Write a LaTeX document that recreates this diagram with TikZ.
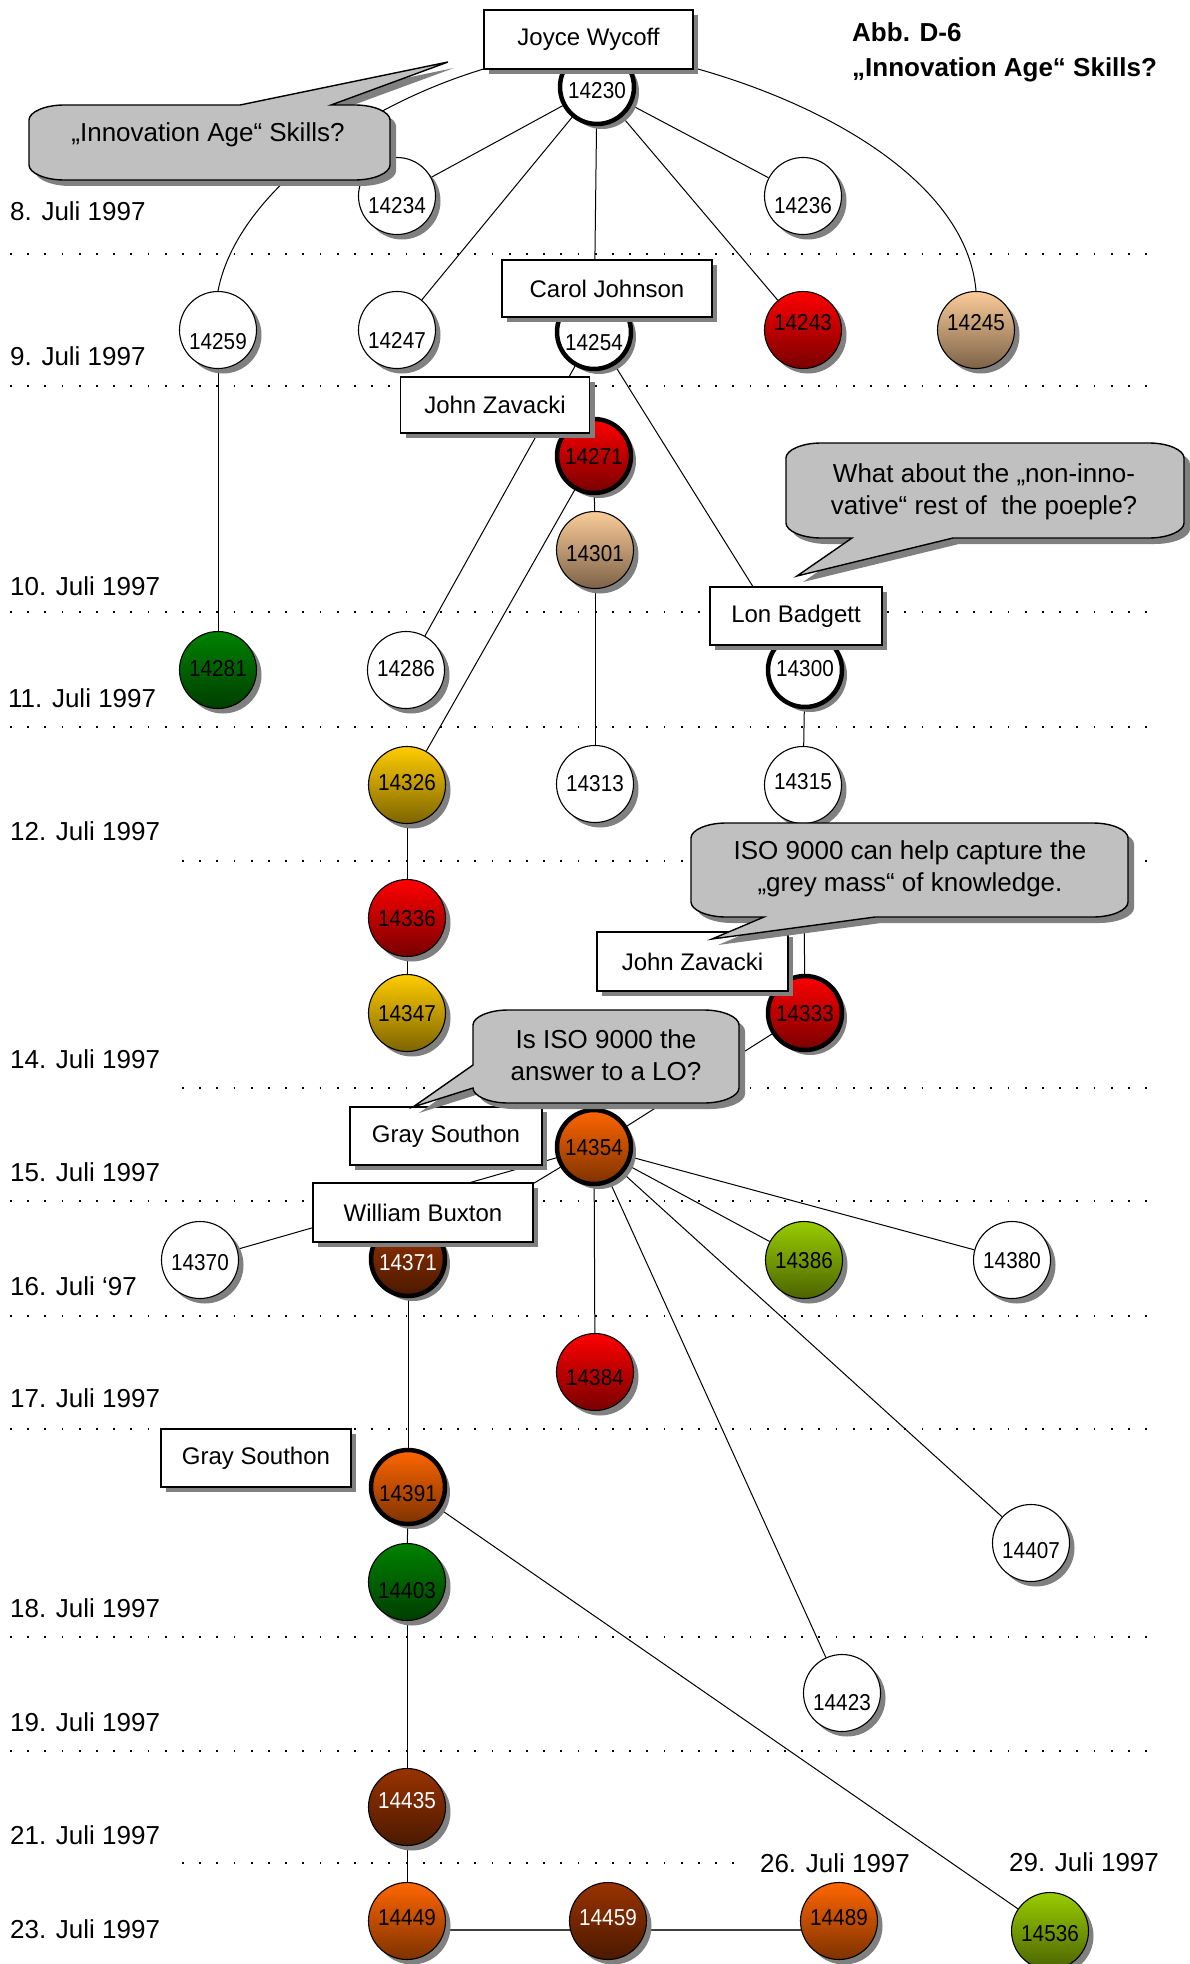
\documentclass[tikz,border=0pt]{standalone}
\usepackage{graphicx}
\usepackage{fontspec}
\setmainfont{Liberation Sans}
\usetikzlibrary{shadows,backgrounds}
\definecolor{redtop}{RGB}{255,0,0}
\definecolor{redbot}{RGB}{120,0,0}
\definecolor{tantop}{RGB}{250,204,153}
\definecolor{tanbot}{RGB}{125,98,72}
\definecolor{greentop}{RGB}{0,130,0}
\definecolor{greenbot}{RGB}{0,62,0}
\definecolor{goldtop}{RGB}{255,204,0}
\definecolor{goldbot}{RGB}{125,100,0}
\definecolor{orangetop}{RGB}{255,102,0}
\definecolor{orangebot}{RGB}{125,50,0}
\definecolor{browntop}{RGB}{153,51,0}
\definecolor{brownbot}{RGB}{75,25,0}
\definecolor{limetop}{RGB}{153,204,0}
\definecolor{limebot}{RGB}{75,100,0}
\definecolor{shadowgray}{RGB}{128,128,128}
\definecolor{bubblegray}{RGB}{192,192,192}
\newcommand\nn[2]{\raisebox{-#1pt}{\raisebox{-0.8pt}{\scalebox{0.9}[1]{#2}}}}
\tikzset{
  myshadow/.style={drop shadow={shadow xshift=5pt,shadow yshift=-5pt,fill=shadowgray,opacity=1}},
  cnode/.style={circle,draw=black,line width=1.1pt,minimum size=77pt,inner sep=0pt,
    font=\fontsize{23}{23}\selectfont,text height=0pt,text depth=0pt,myshadow},
  heavyring/.style={line width=4.5pt,minimum size=74pt},
  wnode/.style={cnode,fill=white},
  rednode/.style={cnode,top color=redtop,bottom color=redbot},
  tannode/.style={cnode,top color=tantop,bottom color=tanbot},
  greennode/.style={cnode,top color=greentop,bottom color=greenbot},
  goldnode/.style={cnode,top color=goldtop,bottom color=goldbot},
  orangenode/.style={cnode,top color=orangetop,bottom color=orangebot},
  brownnode/.style={cnode,top color=browntop,bottom color=brownbot,text=white},
  limenode/.style={cnode,top color=limetop,bottom color=limebot},
  namebox/.style={rectangle,draw=black,line width=1.2pt,fill=white,inner sep=0pt,
    font=\fontsize{24}{24}\selectfont,myshadow},
  datelbl/.style={font=\fontsize{26}{26}\selectfont,anchor=base west,inner sep=0pt},
  titlelbl/.style={font=\bfseries\fontsize{26}{26}\selectfont,anchor=base west,inner sep=0pt},
  conn/.style={line width=1pt,draw=black},
  dotline/.style={line width=1.7pt,draw=black,dash pattern=on 1.7pt off 15.5pt},
  bubble/.style={draw=black,line width=1.4pt,fill=bubblegray,
    drop shadow={shadow xshift=6pt,shadow yshift=-6pt,fill=shadowgray,opacity=1}},
  bubtext/.style={font=\fontsize{26}{32}\selectfont,align=center,inner sep=0pt},
}
\begin{document}
\begin{tikzpicture}[x=1pt,y=-1pt]
\useasboundingbox (0,0) rectangle (1189,1964);

% ---------- circles ----------
\node[wnode,heavyring] (n14230) at (597,87) {\nn{10.5}{14230}};
\node[wnode] (n14234) at (397,196) {\nn{16.5}{14234}};
\node[wnode] (n14236) at (803,196) {\nn{16.5}{14236}};
\node[wnode] (n14259) at (218,330) {\nn{18.5}{14259}};
\node[wnode] (n14247) at (397,330) {\nn{18}{14247}};
\node[wnode,heavyring] (n14254) at (594,332) {\nn{17.5}{14254}};
\node[rednode] (n14243) at (803,330) {\nn{-0.5}{14243}};
\node[tannode] (n14245) at (976,330) {\nn{-0.5}{14245}};
\node[rednode,heavyring] (n14271) at (594,456) {\nn{7.5}{14271}};
\node[tannode] (n14301) at (595,550) {\nn{10.5}{14301}};
\node[greennode] (n14281) at (218,670) {\nn{5.5}{14281}};
\node[wnode] (n14286) at (406,670) {\nn{5.5}{14286}};
\node[wnode,heavyring] (n14300) at (805,670) {\nn{5.5}{14300}};
\node[goldnode] (n14326) at (407,785) {\nn{4.5}{14326}};
\node[wnode] (n14313) at (595,784) {\nn{6.5}{14313}};
\node[wnode] (n14315) at (803,785) {\nn{3.5}{14315}};
\node[rednode] (n14336) at (407,918) {\nn{7.5}{14336}};
\node[goldnode] (n14347) at (407,1013) {\nn{7.5}{14347}};
\node[rednode,heavyring] (n14333) at (805,1013) {\nn{7.5}{14333}};
\node[orangenode,heavyring] (n14354) at (594,1147) {\nn{7.5}{14354}};
\node[wnode] (n14370) at (200,1260) {\nn{9.5}{14370}};
\node[brownnode,heavyring] (n14371) at (408,1259) {\nn{10.5}{14371}};
\node[limenode] (n14386) at (804,1260) {\nn{7.5}{14386}};
\node[wnode] (n14380) at (1012,1260) {\nn{7.5}{14380}};
\node[rednode] (n14384) at (595,1372) {\nn{12.5}{14384}};
\node[orangenode,heavyring] (n14391) at (408,1487) {\nn{13.5}{14391}};
\node[greennode] (n14403) at (407,1582) {\nn{15.5}{14403}};
\node[wnode] (n14407) at (1031,1543) {\nn{14.5}{14407}};
\node[wnode] (n14423) at (842,1693) {\nn{16.5}{14423}};
\node[brownnode] (n14435) at (407,1807) {\nn{0.5}{14435}};
\node[orangenode] (n14449) at (407,1921) {\nn{3.5}{14449}};
\node[brownnode] (n14459) at (608,1921) {\nn{3.5}{14459}};
\node[orangenode] (n14489) at (839,1921) {\nn{3.5}{14489}};
\node[limenode] (n14536) at (1050,1931) {\nn{9.5}{14536}};

% ---------- name boxes ----------
\node[namebox,minimum width=209pt,minimum height=59pt] (bJoyce) at (588.5,39.5) {Joyce Wycoff};
\node[namebox,minimum width=210pt,minimum height=57pt] (bCarol) at (607,288.5) {Carol Johnson};
\node[namebox,minimum width=189pt,minimum height=56pt] (bZavA) at (495,405) {John Zavacki};
\node[namebox,minimum width=172pt,minimum height=58pt] (bLon) at (796,616) {Lon Badgett};
\node[namebox,minimum width=191pt,minimum height=59pt] (bZavB) at (692.5,961.5) {John Zavacki};
\node[namebox,minimum width=192pt,minimum height=58pt] (bGrayA) at (446,1136) {Gray Southon};
\node[namebox,minimum width=220pt,minimum height=59pt] (bBux) at (423,1212.5) {William Buxton};
\node[namebox,minimum width=190pt,minimum height=58pt] (bGrayB) at (256,1458) {Gray Southon};

% ---------- callouts ----------
\path[bubble] (29,120) .. controls (29,112) and (45,105) .. (64,105) -- (240,105) -- (448,62) -- (331,105)
  -- (355,105) .. controls (374,105) and (390,112) .. (390,120) -- (390,165)
  .. controls (390,173) and (374,180) .. (355,180) -- (64,180)
  .. controls (45,180) and (29,173) .. (29,165) -- cycle;
\node[bubtext] (cInno) at (208,135) {„Innovation Age“ Skills?};

\path[bubble] (786,458) .. controls (786,450) and (802,443) .. (821,443) -- (1149,443)
  .. controls (1168,443) and (1184,450) .. (1184,458) -- (1184,523)
  .. controls (1184,531) and (1168,538) .. (1149,538) -- (953,538) -- (797,576) -- (852,538)
  -- (821,538) .. controls (802,538) and (786,531) .. (786,523) -- cycle;
\node[bubtext] (cWhat) at (984,492) {What about the „non-inno-\\vative“ rest of\ \ the poeple?};

\path[bubble] (691,838) .. controls (691,830) and (707,823) .. (726,823) -- (1093,823)
  .. controls (1112,823) and (1128,830) .. (1128,838) -- (1128,902)
  .. controls (1128,910) and (1112,917) .. (1093,917) -- (875,917) -- (712,939) -- (764,917)
  -- (726,917) .. controls (707,917) and (691,910) .. (691,902) -- cycle;
\node[bubtext] (cISO) at (910,869) {ISO 9000 can help capture the\\„grey mass“ of knowledge.};

\path[bubble] (473,1025) .. controls (473,1017) and (489,1010) .. (508,1010) -- (704,1010)
  .. controls (723,1010) and (739,1017) .. (739,1025) -- (739,1088)
  .. controls (739,1096) and (723,1103) .. (704,1103) -- (508,1103)
  .. controls (489,1103) and (473,1096) .. (473,1088) -- (413,1107) -- (473,1065) -- cycle;
\node[bubtext] (cLO) at (606,1055) {Is ISO 9000 the\\answer to a LO?};

% ---------- title ----------
\node[titlelbl] (t1) at (852,42) {Abb. D-6};
\node[titlelbl] (t2) at (852,77) {„Innovation Age“ Skills?};

% ---------- dates ----------
\node[datelbl] (d8) at (10,221) {8. Juli 1997};
\node[datelbl] (d9) at (10,365) {9. Juli 1997};
\node[datelbl] (d10) at (10,595) {10. Juli 1997};
\node[datelbl] (d11) at (8,707) {11. Juli 1997};
\node[datelbl] (d12) at (10,840) {12. Juli 1997};
\node[datelbl] (d14) at (10,1068) {14. Juli 1997};
\node[datelbl] (d15) at (10,1181) {15. Juli 1997};
\node[datelbl] (d16) at (10,1295) {16. Juli ‘97};
\node[datelbl] (d17) at (10,1407) {17. Juli 1997};
\node[datelbl] (d18) at (10,1617) {18. Juli 1997};
\node[datelbl] (d19) at (10,1731) {19. Juli 1997};
\node[datelbl] (d21) at (10,1844) {21. Juli 1997};
\node[datelbl] (d23) at (10,1938) {23. Juli 1997};
\node[datelbl,anchor=base] (d26) at (835,1872) {26. Juli 1997};
\node[datelbl,anchor=base] (d29) at (1084,1871) {29. Juli 1997};

% ---------- background: dotted rules and connectors ----------
\begin{pgfonlayer}{background}
\fill[white] (0,0) rectangle (1189,1964);
\foreach \yy in {254,386,612,727,1201,1316,1429,1637,1751}
  \draw[dotline] (10,\yy) -- (1160,\yy);
\foreach \yy in {861,1088}
  \draw[dotline] (182,\yy) -- (1160,\yy);
\draw[dotline] (182,1863) -- (742,1863);

\draw[conn] (n14230) -- (n14234);
\draw[conn] (n14230) -- (n14236);
\draw[conn] (n14230) -- (n14247);
\draw[conn] (n14230) -- (n14254);
\draw[conn] (n14230) -- (n14243);
\draw[conn] (n14230.north) .. controls (420,60) and (240,175) .. (n14259.north);
\draw[conn] (n14230.north) .. controls (760,70) and (965,160) .. (n14245.north);
\draw[conn] (n14254) -- (n14286);
\draw[conn] (n14254) -- (n14300);
\draw[conn] (n14259) -- (n14281);
\draw[conn] (n14271) -- (n14301);
\draw[conn] (n14271) -- (n14326);
\draw[conn] (n14301) -- (n14313);
\draw[conn] (n14300) -- (n14315);
\draw[conn] (n14315) -- (n14333);
\draw[conn] (n14326) -- (n14336);
\draw[conn] (n14336) -- (n14347);
\draw[conn] (n14333) -- (n14354);
\draw[conn] (n14354) -- (n14370);
\draw[conn] (n14354) -- (n14371);
\draw[conn] (n14354) -- (n14384);
\draw[conn] (n14354) -- (n14386);
\draw[conn] (n14354) -- (n14380);
\draw[conn] (n14354) -- (n14407);
\draw[conn] (n14354) -- (n14423);
\draw[conn] (n14371) -- (n14391);
\draw[conn] (n14391) -- (n14403);
\draw[conn] (n14391) -- (n14536);
\draw[conn] (n14403) -- (n14435);
\draw[conn] (n14435) -- (n14449);
\draw[conn,line width=1.6pt,draw=black!75] ([yshift=-9pt]n14449.center) -- ([yshift=-9pt]n14459.center) -- ([yshift=-9pt]n14489.center);
\end{pgfonlayer}
\end{tikzpicture}
\end{document}
